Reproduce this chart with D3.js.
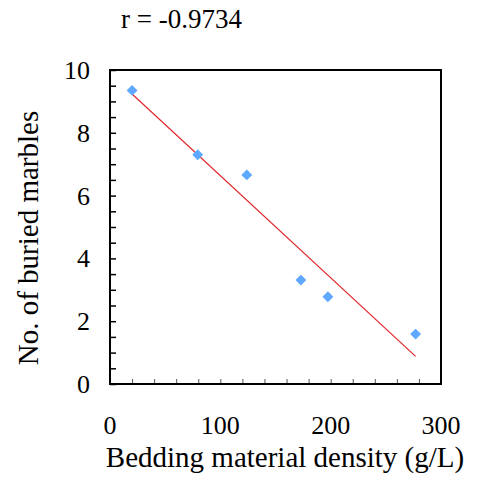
<!DOCTYPE html>
<html>
<head>
<meta charset="utf-8">
<script src="https://cdn.jsdelivr.net/npm/d3@7"></script>
<style>
  body { margin: 0; background: #fff; }
  text { font-family: "Liberation Serif", "Times New Roman", serif; fill: #000; }
</style>
</head>
<body>
<div id="chart"></div>
<script>
// values
const density = [20, 79.5, 124, 173, 197.5, 277]
const marbles = [9.35, 7.3, 6.66, 3.31, 2.78, 1.59]
const xTickLabels = [0, 100, 200, 300]
const yTickLabels = [0, 2, 4, 6, 8, 10]
const rText = "r = -0.9734"

const width = 481, height = 481
const margin = { left: 110, right: 40, top: 70, bottom: 97 }

const x = d3.scaleLinear().domain([0, 300]).range([margin.left, width - margin.right])
const y = d3.scaleLinear().domain([0, 10]).range([height - margin.bottom, margin.top])

const svg = d3.select("#chart").append("svg")
    .attr("width", width)
    .attr("height", height)

// least squares trend line
const mx = d3.mean(density), my = d3.mean(marbles)
let sxy = 0, sxx = 0
density.forEach((d, i) => { sxy += (d - mx) * (marbles[i] - my); sxx += (d - mx) * (d - mx) })
const slope = sxy / sxx
const intercept = my - slope * mx
const x0 = d3.min(density), x1 = d3.max(density)

// minor ticks inside the frame
svg.append("g")
    .attr("transform", `translate(0,${y(0)})`)
    .call(d3.axisBottom(x).tickValues(d3.range(0, 301, 20)).tickSize(-5).tickFormat(""))
    .call(g => g.select(".domain").remove())
    .call(g => g.selectAll("line").attr("stroke", "#555"))

svg.append("g")
    .attr("transform", `translate(${x(0)},0)`)
    .call(d3.axisLeft(y).tickValues(d3.range(0, 10.01, 0.5)).tickSize(-6).tickFormat(""))
    .call(g => g.select(".domain").remove())
    .call(g => g.selectAll("line").attr("stroke", "#000").attr("stroke-width", 1.5))

// frame
svg.append("rect")
    .attr("x", x(0)).attr("y", y(10))
    .attr("width", x(300) - x(0)).attr("height", y(0) - y(10))
    .attr("fill", "none").attr("stroke", "#000").attr("stroke-width", 2)

// tick labels
svg.append("g").selectAll("text")
    .data(xTickLabels)
    .enter().append("text")
    .attr("x", d => x(d))
    .attr("y", y(0) + 50)
    .attr("text-anchor", "middle")
    .style("font-size", "26px")
    .text(d => d)

svg.append("g").selectAll("text")
    .data(yTickLabels)
    .enter().append("text")
    .attr("x", x(0) - 20)
    .attr("y", d => y(d) + 9)
    .attr("text-anchor", "end")
    .style("font-size", "26px")
    .text(d => d)

// trend line
svg.append("line")
    .attr("x1", x(x0)).attr("y1", y(intercept + slope * x0))
    .attr("x2", x(x1)).attr("y2", y(intercept + slope * x1))
    .attr("stroke", "#e0262b").attr("stroke-width", 1.2)

// points
svg.append("g").selectAll("path")
    .data(density)
    .enter().append("path")
    .attr("transform", (d, i) => `translate(${x(d)},${y(marbles[i])})`)
    .attr("d", d3.symbol(d3.symbolDiamond2, 75))
    .attr("fill", "#5ea8ff")

// labels
svg.append("text")
    .attr("x", 242).attr("y", 28)
    .attr("text-anchor", "end")
    .style("font-size", "27px")
    .text(rText)

svg.append("text")
    .attr("x", 285).attr("y", 467)
    .attr("text-anchor", "middle")
    .style("font-size", "29px")
    .text("Bedding material density (g/L)")

svg.append("text")
    .attr("transform", `translate(38,238) rotate(-90)`)
    .attr("text-anchor", "middle")
    .style("font-size", "29px")
    .text("No. of buried marbles")
</script>
</body>
</html>
